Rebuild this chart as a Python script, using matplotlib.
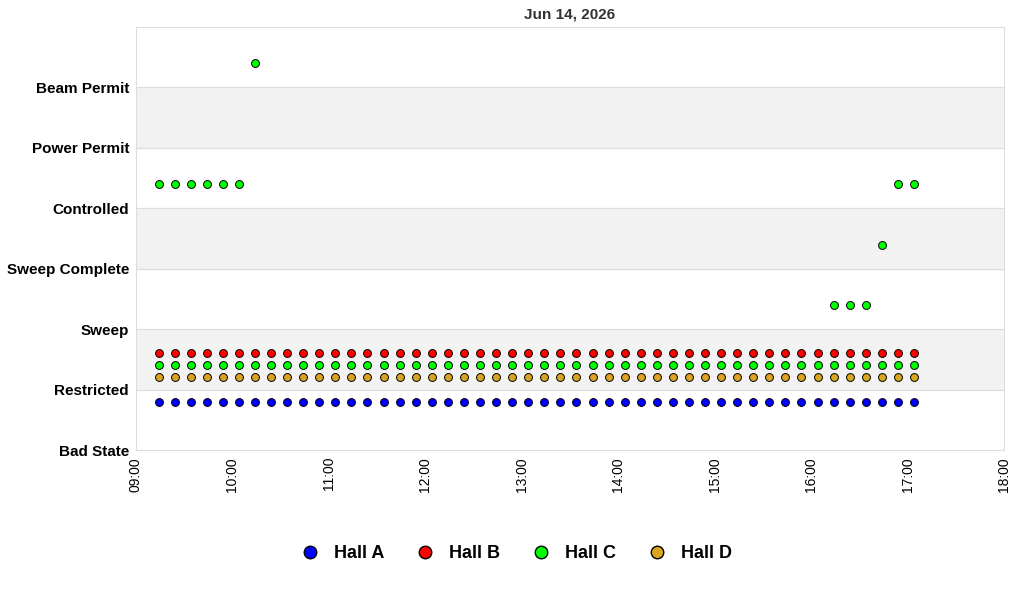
import matplotlib
matplotlib.use("Agg")
from matplotlib import pyplot as plt
import numpy as np

plt.rcParams['font.family'] = ['Liberation Sans', 'DejaVu Sans']

states = ["Bad State", "Restricted", "Sweep", "Sweep Complete", "Controlled", "Power Permit", "Beam Permit"]

# samples every 10 minutes starting 09:14
times = 9 + 14 / 60 + np.arange(48) * 10 / 60

hall_a = [0.8] * 48
hall_b = [1.6] * 48
hall_c_low = [1.4] * 48
hall_c = [4.4] * 6 + [6.4] + [np.nan] * 35 + [2.4] * 3 + [3.4] + [4.4] * 2
hall_d = [1.2] * 48

series = [("Hall A", hall_a, "#0000ff"), ("Hall B", hall_b, "#ff0000"),
          ("Hall C", hall_c, "#00ff00"), ("Hall D", hall_d, "#daa520")]

fig = plt.figure(figsize=(10.24, 6.0), dpi=100)
ax = fig.add_axes([136 / 1024, 1 - 450 / 600, 868 / 1024, 423 / 600])

for i in range(7):
    if i % 2 == 1:
        ax.axhspan(i, i + 1, color="#f2f2f2", zorder=0)
    ax.axhline(i, color="#dddddd", lw=0.8, zorder=0)

for name, vals, col in series:
    ax.scatter(times, vals, s=32, marker="o", c=col, edgecolors="black", linewidths=0.7, zorder=3)
ax.scatter(times, hall_c_low, s=32, marker="o", c="#00ff00", edgecolors="black", linewidths=0.7, zorder=3)

ax.set_xlim(9, 18)
ax.set_ylim(0, 7)
ax.set_yticks(range(7))
ax.set_yticklabels(states, fontweight="bold", fontsize=11)
ax.set_xticks(range(9, 19))
ax.set_xticklabels(["%02d:00" % h for h in range(9, 19)], rotation=90, fontsize=10)
ax.tick_params(length=0, pad=5)
for s in ax.spines.values():
    s.set_color("#dddddd")
ax.set_title("Jun 14, 2026", fontweight="bold", fontsize=11, color="#333333", pad=6)

handles = [plt.Line2D([], [], marker="o", ls="", markersize=9, markerfacecolor=c, markeredgecolor="black") for _, _, c in series]
fig.legend(handles, [n for n, _, _ in series], loc="center", bbox_to_anchor=(0.5, 1 - 554 / 600), ncol=4,
           frameon=False, prop={"weight": "bold", "size": 13}, handletextpad=0.3, columnspacing=1.3)

fig.savefig("out.png")
